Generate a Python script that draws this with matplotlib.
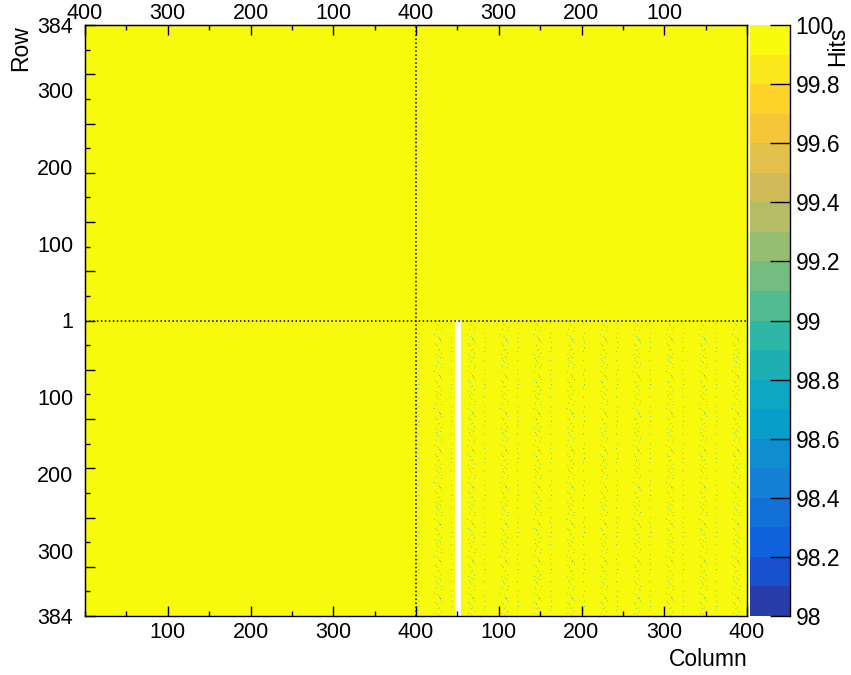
import numpy as np
import matplotlib
matplotlib.use("Agg")
import matplotlib.pyplot as plt
from matplotlib.colors import ListedColormap, BoundaryNorm, LinearSegmentedColormap
from matplotlib.ticker import MultipleLocator

plt.rcParams['font.family'] = ['Liberation Sans', 'DejaVu Sans']

# ---------------- data ----------------
n_cols = 800            # 2 modules x 400 columns
n_rows = 768            # 2 modules x 384 rows
base_hits = 100.0
z_min, z_max = 98.0, 100.0
n_contours = 20

# bottom-right module: dead column range (no entries -> white)
dead_columns = [448, 449, 450, 451, 452, 453]

# repeating low-hit pattern seen in the bottom-right module (one 48 rows x 40 cols tile)
tile_rows, tile_cols = 48, 40
speck_col = [2, 3, 2, 3, 23, 24, 25, 26, 27, 28, 29, 30, 31, 24, 27, 30,
             22, 25, 28, 31, 26, 29, 23, 2, 3]
speck_row = [7, 31, 44, 19, 3, 36, 15, 27, 41, 10, 22, 34, 19, 46, 1, 5,
             29, 43, 24, 38, 9, 47, 17, 25, 12]
speck_val = [99.0, 99.0, 98.8, 99.0, 99.0, 99.0, 98.6, 99.0, 99.0, 99.0, 98.2,
             99.0, 99.0, 99.0, 99.0, 98.8, 99.0, 99.0, 98.8, 99.0, 99.0, 99.0,
             99.0, 99.0, 98.6]

bottom_tick_pos = [100, 200, 300, 400, 500, 600, 700, 800]
bottom_tick_labels = ['100', '200', '300', '400', '100', '200', '300', '400']
top_tick_pos = [0, 100, 200, 300, 400, 500, 600, 700, 800]
top_tick_labels = ['400', '300', '200', '100', '400', '300', '200', '100', '']
row_label_pos = [0, 84, 184, 284, 384, 484, 584, 684, 768]
row_labels = ['384', '300', '200', '100', '1', '100', '200', '300', '384']
cbar_ticks = [98.0, 98.2, 98.4, 98.6, 98.8, 99.0, 99.2, 99.4, 99.6, 99.8, 100.0]

# ---------------- build map ----------------
hits = np.full((n_rows, n_cols), base_hits)
tile = np.full((tile_rows, tile_cols), base_hits)
tile[speck_row, speck_col] = speck_val
hits[0:384, 400:800] = np.tile(tile, (384 // tile_rows, 400 // tile_cols))
hits[0:384, dead_columns] = np.nan

# ROOT kBird palette
stops = [0.0, 0.125, 0.25, 0.375, 0.5, 0.625, 0.75, 0.875, 1.0]
red = [0.2082, 0.0592, 0.0780, 0.0232, 0.1802, 0.5301, 0.8186, 0.9956, 0.9764]
green = [0.1664, 0.3599, 0.5041, 0.6419, 0.7178, 0.7492, 0.7328, 0.7862, 0.9832]
blue = [0.5293, 0.8684, 0.8385, 0.7914, 0.6425, 0.4662, 0.3499, 0.1968, 0.0539]
bird = LinearSegmentedColormap.from_list(
    'bird', [(s, (r, g, b)) for s, r, g, b in zip(stops, red, green, blue)], N=255)
idx = [int((i + 0.99) * 255 / n_contours) for i in range(n_contours)]
colors = [bird(min(k, 254) / 254) for k in idx]
cmap = ListedColormap(colors)
cmap.set_bad((1, 1, 1, 0))
cmap.set_over(colors[-1])
cmap.set_under(colors[0])
levels = np.linspace(z_min, z_max, n_contours + 1)
norm = BoundaryNorm(levels, n_contours)

# ---------------- figure ----------------
W, H = 851, 675
fig = plt.figure(figsize=(W / 100, H / 100), dpi=100)
ax = fig.add_axes([85 / W, (H - 616) / H, (747 - 85) / W, (616 - 25) / H])
cax = fig.add_axes([750 / W, (H - 616) / H, 40 / W, (616 - 25) / H])

im = ax.imshow(hits, origin='lower', extent=[0, n_cols, 0, n_rows], aspect='auto',
               cmap=cmap, norm=norm, interpolation='antialiased')
ax.set_xlim(0, n_cols)
ax.set_ylim(0, n_rows)

ax.axvline(400, color='k', lw=1.1, ls=(0, (1, 1.6)))
ax.axhline(384, color='k', lw=1.1, ls=(0, (1, 1.6)))

for sp in ax.spines.values():
    sp.set_color('k')
    sp.set_linewidth(1.0)

tick_fs = 15.5

# bottom axis
ax.set_xticks(bottom_tick_pos, bottom_tick_labels)
ax.xaxis.set_minor_locator(MultipleLocator(50))
ax.tick_params(axis='x', which='major', direction='in', length=7, width=1,
               labelsize=tick_fs, pad=4, top=False)
ax.tick_params(axis='x', which='minor', direction='in', length=3.5, width=1, top=False)

# top axis
secx = ax.secondary_xaxis('top')
secx.set_xticks(top_tick_pos, top_tick_labels)
secx.xaxis.set_minor_locator(MultipleLocator(50))
secx.tick_params(axis='x', which='major', direction='in', length=7, width=1,
                 labelsize=tick_fs, pad=0.5)
secx.tick_params(axis='x', which='minor', direction='in', length=3.5, width=1)

# left axis: labels placed at row positions, ticks every 64 / 32 rows
ax.set_yticks(row_label_pos, row_labels)
ax.tick_params(axis='y', which='major', length=0, labelsize=tick_fs, pad=8.5, right=False)
secy = ax.secondary_yaxis('left')
secy.set_yticks(np.arange(0, n_rows + 1, 64))
secy.yaxis.set_minor_locator(MultipleLocator(32))
secy.tick_params(axis='y', which='major', direction='in', length=7, width=1, labelleft=False)
secy.tick_params(axis='y', which='minor', direction='in', length=3.5, width=1, labelleft=False)

# colorbar
cb = fig.colorbar(im, cax=cax, ticks=cbar_ticks, format='%g')
cb.outline.set_visible(False)
cax.tick_params(axis='y', which='major', direction='in', length=14.5, width=1,
                labelsize=16.5, pad=4, right=True, left=False, colors='k')
cax.tick_params(axis='y', which='minor', length=0)
cax.plot([1, 1], [0, 1], transform=cax.transAxes, color='k', lw=1, clip_on=False)

# titles
fig.text(21 / W, 1 - 25 / H, 'Row', rotation=90, ha='center', va='top', fontsize=16.5)
fig.text(748 / W, 1 - 659 / H, 'Column', ha='right', va='center', fontsize=16.5)
fig.text(838 / W, 1 - 27 / H, 'Hits', rotation=90, ha='center', va='top', fontsize=16.5)

fig.savefig('out.png', dpi=100)
